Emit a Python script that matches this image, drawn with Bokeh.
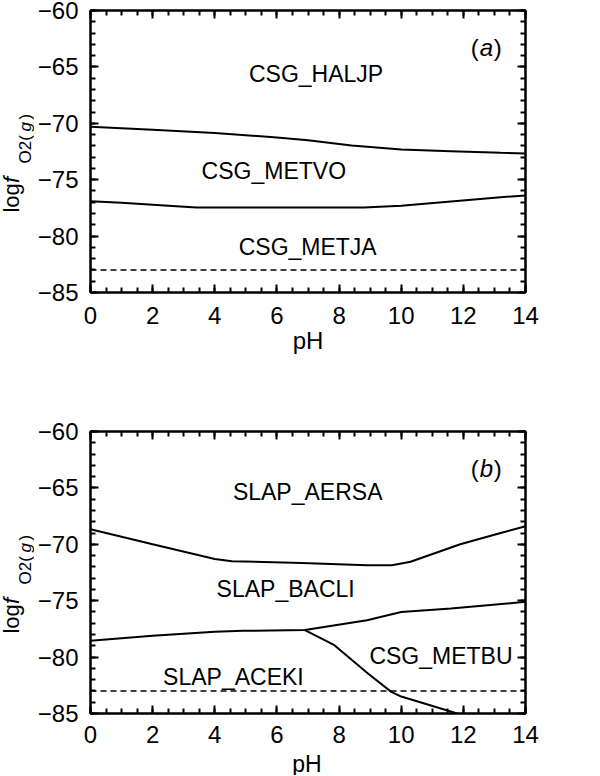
import math
from bokeh.plotting import figure
from bokeh.models import Range1d, FixedTicker, LinearAxis, Label, ColumnDataSource
from bokeh.layouts import column, row
from bokeh.core.properties import value
from bokeh.embed import file_html
from bokeh.resources import INLINE

FONT = "Liberation Sans"

# ---- axes / ticks ----
x_major = [0, 2, 4, 6, 8, 10, 12, 14]
x_minor = [i * 0.5 for i in range(29)]
y_major = [-85, -80, -75, -70, -65, -60]
y_minor = list(range(-85, -59))
x_tick_labels = ["0", "2", "4", "6", "8", "10", "12", "14"]
y_tick_labels = ["\u221285", "\u221280", "\u221275", "\u221270", "\u221265", "\u221260"]
x_title = "pH"
water_limit = -83.0

# ---- panel (a) ----
a_b1_ph = [0, 2, 4, 6, 7, 8.4, 10, 11.6, 13.2, 14]
a_b1_val = [-70.3, -70.58, -70.85, -71.25, -71.5, -71.97, -72.32, -72.47, -72.62, -72.68]
a_b2_ph = [0, 1, 2, 3.4, 6, 8.8, 10, 11.6, 13.2, 14]
a_b2_val = [-76.9, -77.05, -77.22, -77.47, -77.47, -77.47, -77.32, -76.94, -76.55, -76.4]
a_names = ["CSG_HALJP", "CSG_METVO", "CSG_METJA"]
a_name_ph = [7.26, 5.9, 6.99]
a_name_val = [-65.67, -74.27, -81.0]

# ---- panel (b) ----
b_b1_ph = [0, 2, 4, 4.55, 6.8, 8.9, 9.7, 10.3, 11.9, 13.2, 14]
b_b1_val = [-68.66, -69.99, -71.3, -71.5, -71.65, -71.85, -71.85, -71.55, -70.0, -69.0, -68.4]
b_b2_ph = [0, 2, 4, 4.9, 6.9, 8.9, 10, 11.6, 14]
b_b2_val = [-78.56, -78.1, -77.76, -77.67, -77.6, -76.73, -76.0, -75.7, -75.1]
b_b3_ph = [6.9, 7.85, 8.93, 9.68, 10.0, 10.85, 11.8, 12.3]
b_b3_val = [-77.6, -78.94, -81.45, -83.08, -83.5, -84.2, -85.0, -85.3]
b_names = ["SLAP_AERSA", "SLAP_BACLI", "SLAP_ACEKI", "CSG_METBU"]
b_name_ph = [6.99, 6.28, 4.6, 11.28]
b_name_val = [-65.32, -74.0, -81.8, -79.86]

LABEL_W = 34
TOTAL_W = 592
FRAME_L = 88
FRAME_W = 437


def style_axis(ax, major, minor, labels, show):
    ax.ticker = FixedTicker(ticks=major, minor_ticks=minor)
    ax.axis_line_width = 2
    ax.axis_line_color = "black"
    ax.major_tick_in = 8
    ax.major_tick_out = 0
    ax.minor_tick_in = 5
    ax.minor_tick_out = 0
    ax.major_tick_line_width = 2
    ax.minor_tick_line_width = 2
    ax.major_tick_line_color = "black"
    ax.minor_tick_line_color = "black"
    if show:
        ax.major_label_overrides = {t: l for t, l in zip(major, labels)}
        ax.major_label_text_font = FONT
        ax.major_label_text_font_size = "24px"
        ax.major_label_text_color = "black"
    else:
        ax.major_label_overrides = {t: "" for t in major}
        ax.major_label_text_font_size = "0px"
        ax.major_label_standoff = 0


def bare_fig(w, h, xr, yr, top=0, bottom=0):
    f = figure(width=w, height=h, x_range=xr, y_range=yr,
               output_backend="svg", toolbar_location=None,
               x_axis_location=None, y_axis_location=None,
               min_border_left=0, min_border_right=0, min_border_top=top,
               min_border_bottom=bottom)
    f.xgrid.visible = False
    f.ygrid.visible = False
    f.outline_line_color = None
    return f


def make_ylabel(height, top, bottom, yr):
    f = bare_fig(LABEL_W, height, Range1d(0, LABEL_W), yr, top, bottom)
    # log f_{O2(g)}  (x = centre of the rotated glyph line)
    pieces = [("log", "normal", "22px", -77.91, 10.5),
              ("f", "italic", "22px", -75.3, 10.5),
              ("O2(", "normal", "17px", -73.56, 24.5),
              ("g", "italic", "17px", -70.73, 24.5),
              (")", "normal", "17px", -69.66, 24.5)]
    for txt, style, size, yv, xv in pieces:
        f.text(x=[xv], y=[yv], text=[txt], angle=math.pi / 2, text_font=value(FONT),
               text_font_style=style, text_font_size=value(size), text_align="left",
               text_baseline="middle", text_color="black")
    return f


def make_panel(height, top, bottom, tick_standoff, with_title, lines, names,
               name_ph, name_val, tag):
    yr = Range1d(-85, -60)
    p = figure(width=TOTAL_W - LABEL_W, height=height, x_range=Range1d(0, 14), y_range=yr,
               output_backend="svg", toolbar_location=None,
               min_border_left=FRAME_L - LABEL_W, min_border_right=TOTAL_W - FRAME_L - FRAME_W,
               min_border_top=top, min_border_bottom=bottom)
    p.xgrid.visible = False
    p.ygrid.visible = False
    p.outline_line_color = "black"
    p.outline_line_width = 2
    p.background_fill_color = "white"
    p.border_fill_color = "white"

    style_axis(p.xaxis[0], x_major, x_minor, x_tick_labels, True)
    style_axis(p.yaxis[0], y_major, y_minor, y_tick_labels, True)
    p.xaxis[0].major_label_standoff = tick_standoff
    p.yaxis[0].major_label_standoff = 12
    if with_title:
        p.xaxis[0].axis_label = x_title
        p.xaxis[0].axis_label_text_font = FONT
        p.xaxis[0].axis_label_text_font_size = "24px"
        p.xaxis[0].axis_label_text_font_style = "normal"
        p.xaxis[0].axis_label_text_color = "black"
        p.xaxis[0].axis_label_standoff = 0

    top_ax = LinearAxis()
    style_axis(top_ax, x_major, x_minor, x_tick_labels, False)
    p.add_layout(top_ax, "above")
    right_ax = LinearAxis()
    style_axis(right_ax, y_major, y_minor, y_tick_labels, False)
    p.add_layout(right_ax, "right")

    for xs, ys in lines:
        p.line(xs, ys, line_color="black", line_width=2)
    p.line([0, 14], [water_limit, water_limit], line_color="black", line_width=1.6,
           line_dash="6 4")

    src = ColumnDataSource(dict(x=name_ph, y=name_val, t=names))
    p.text(x="x", y="y", text="t", source=src, text_font=value(FONT),
           text_font_size=value("23px"), text_align="center", text_baseline="middle",
           text_color="black")

    # panel tag (a)/(b)
    for txt, style, xo in [("(", "normal", 0), (tag, "italic", 9), (")", "normal", 23)]:
        p.add_layout(Label(x=12.24, y=-63.28, x_offset=xo, text=txt,
                           text_font=FONT, text_font_style=style, text_font_size="24px",
                           text_align="left", text_baseline="alphabetic",
                           text_color="black"))
    lab = make_ylabel(height, top, bottom, yr)
    return row(lab, p)


r1 = make_panel(421, 10, 129, 14, True, [(a_b1_ph, a_b1_val), (a_b2_ph, a_b2_val)],
                a_names, a_name_ph, a_name_val, "a")
r2 = make_panel(332, 10, 40, 12, False,
                [(b_b1_ph, b_b1_val), (b_b2_ph, b_b2_val), (b_b3_ph, b_b3_val)],
                b_names, b_name_ph, b_name_val, "b")

# x title of lower panel in its own strip, so that it fits the page
STRIP_H = 22
strip = bare_fig(TOTAL_W, STRIP_H, Range1d(0, TOTAL_W), Range1d(0, STRIP_H))
strip.text(x=[FRAME_L + FRAME_W / 2], y=[12], text=[x_title],
           text_font=value(FONT), text_font_size=value("23px"), text_align="center",
           text_baseline="middle", text_color="black")

layout = column(r1, r2, strip)
open("out.html", "w").write(file_html(layout, INLINE))
